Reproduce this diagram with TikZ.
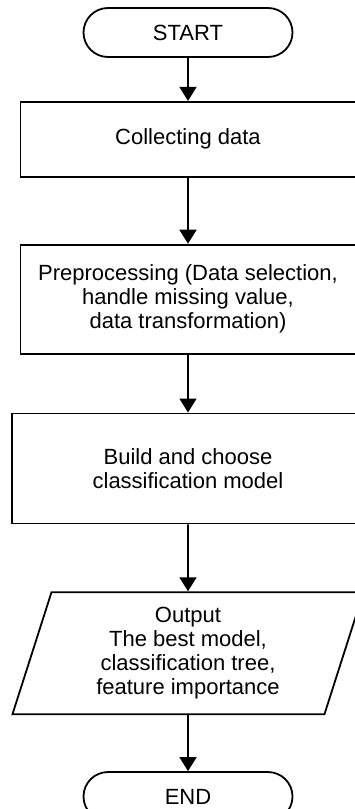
\documentclass[tikz,border=0pt]{standalone}
\usepackage{fontspec}
\setmainfont{Liberation Sans}
\usetikzlibrary{positioning,shapes.misc,shapes.geometric,arrows.meta}

\begin{document}
\begin{tikzpicture}
      [x=1pt, y=1pt, line width=1.8pt, font=\fontsize{22}{24}\selectfont,
       >={Triangle[length=14pt,width=17pt]},
       term node/.style={rounded rectangle, draw, minimum width=209pt, minimum height=49pt, inner sep=0pt},
       proc node/.style={rectangle, draw, minimum width=335pt, inner sep=0pt, align=center},
       io node/.style={trapezium, trapezium left angle=67, trapezium right angle=113,
         trapezium stretches body, draw, minimum width=351pt, minimum height=122pt,
         inner sep=0pt, align=center}]
      \useasboundingbox (0,0) rectangle (355,-809);

      \node[term node] (start) at (188,-32.5) {START};

      \node[proc node, minimum height=75pt, below=43pt of start] (collect) {Collecting data};
      \node[proc node, minimum height=109pt, below=66pt of collect]
        (prep) {Preprocessing (Data selection,\\handle missing value,\\data transformation)};
      \node[proc node, minimum width=352pt, minimum height=110pt, below=58pt of prep]
        (build) {Build and choose\\classification model};

      \node[io node, below=67pt of build]
        (output) {Output\\The best model,\\classification tree,\\feature importance};
      \node[term node, below=56pt of output] (end) {END};

      \draw[->] (start) -- (collect);
      \draw[->] (collect) -- (prep);
      \draw[->] (prep) -- (build);
      \draw[->] (build) -- (output);
      \draw[->] (output) -- (end);
   \end{tikzpicture}
\end{document}
